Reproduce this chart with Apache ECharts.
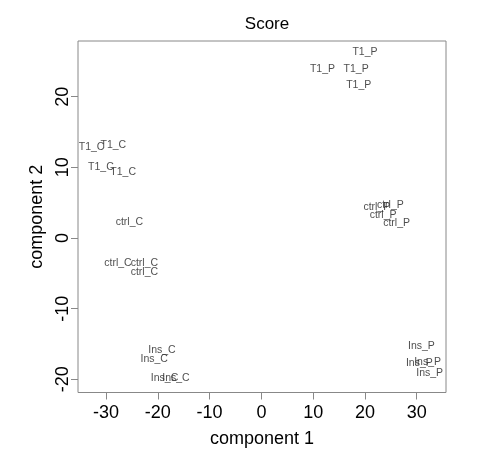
<!DOCTYPE html>
<html>
<head>
<meta charset="utf-8">
<script src="https://cdn.jsdelivr.net/npm/echarts@6/dist/echarts.min.js"></script>
<style>html,body{margin:0;padding:0;background:#fff}#c{width:500px;height:467px}</style>
</head>
<body>
<div id="c"></div>
<script>
const sampleLabels = ["T1_C","T1_C","T1_C","T1_C",
  "ctrl_C","ctrl_C","ctrl_C","ctrl_C",
  "Ins_C","Ins_C","Ins_C","Ins_C",
  "T1_P","T1_P","T1_P","T1_P",
  "ctrl_P","ctrl_P","ctrl_P","ctrl_P",
  "Ins_P","Ins_P","Ins_P","Ins_P"];
const comp1 = [-32.8,-28.6,-31.0,-26.7,
  -25.5,-27.7,-22.6,-22.6,
  -19.2,-20.7,-18.7,-16.5,
  20.0,11.8,18.3,18.8,
  22.3,24.9,23.5,26.1,
  30.9,30.5,32.1,32.5];
const comp2 = [12.84,13.16,10.09,9.38,
  2.31,-3.58,-3.58,-4.88,
  -15.85,-17.13,-19.86,-19.86,
  26.37,23.88,23.92,21.66,
  4.43,4.67,3.26,2.08,
  -15.29,-17.74,-17.51,-19.07];
const xTicks = [-30,-20,-10,0,10,20,30];
const yTicks = [-20,-10,0,10,20];
const titleText = "Score";
const xName = "component 1";
const yName = "component 2";

const FF = "'Liberation Sans', Arial, sans-serif";
const data = comp1.map((x,i)=>[x, comp2[i], sampleLabels[i]]);
const chart = echarts.init(document.getElementById('c'), null, {renderer:'canvas'});
chart.setOption({
  animation:false,
  backgroundColor:'#fff',
  title:{text:titleText, left:262, top:11, textAlign:'center',
    textStyle:{fontSize:17,fontWeight:'normal',color:'#000',fontFamily:FF}},
  grid:{left:78,right:54,top:41,bottom:74.5,show:true,borderColor:'#888',borderWidth:1,backgroundColor:'transparent'},
  xAxis:{type:'value',min:-35.42,max:35.65,
    axisLine:{show:false,onZero:false},splitLine:{show:false},
    axisTick:{show:true,length:7,customValues:xTicks,lineStyle:{color:'#888'}},
    axisLabel:{customValues:xTicks,fontSize:18,color:'#000',margin:12,fontFamily:FF},
    name:xName,nameLocation:'middle',nameGap:38,
    nameTextStyle:{fontSize:18,color:'#000',fontFamily:FF}},
  yAxis:{type:'value',min:-21.87,max:27.88,
    axisLine:{show:false,onZero:false},splitLine:{show:false},
    axisTick:{show:true,length:7,customValues:yTicks,lineStyle:{color:'#888'}},
    axisLabel:{customValues:yTicks,fontSize:18,color:'#000',margin:6,rotate:90,fontFamily:FF},
    name:yName,nameLocation:'middle',nameGap:29,
    nameTextStyle:{fontSize:18,color:'#000',fontFamily:FF}},
  series:[{
    type:'scatter',
    data:data,
    symbolSize:1,
    itemStyle:{color:'rgba(0,0,0,0)'},
    clip:true,
    label:{show:true,position:'inside',formatter:p=>p.data[2],
      fontSize:10.5,color:'#222',fontFamily:FF},
    emphasis:{disabled:true}
  }]
});
</script>
</body>
</html>
